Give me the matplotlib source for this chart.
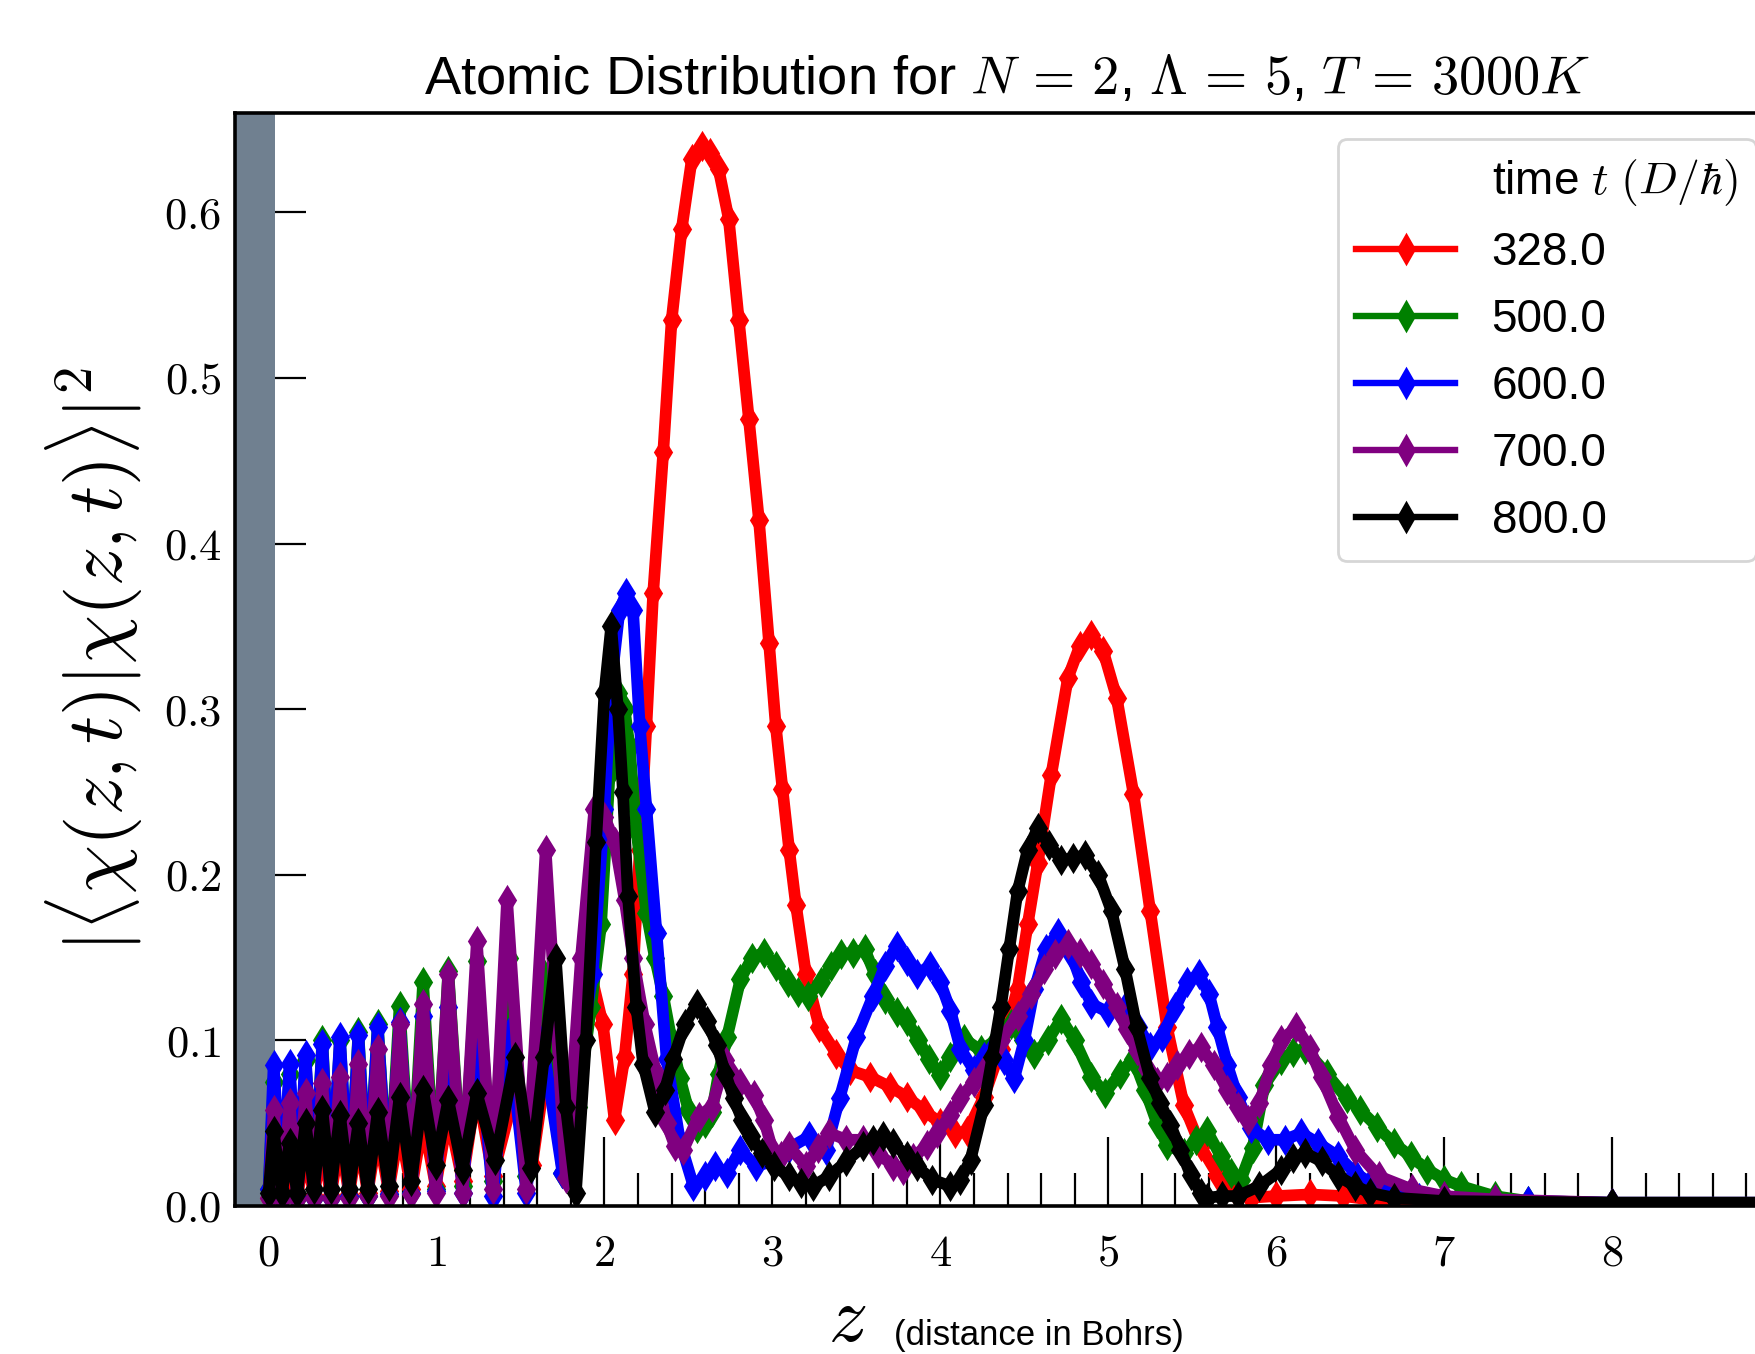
import matplotlib
matplotlib.use("Agg")
import matplotlib.pyplot as plt
from matplotlib.lines import Line2D
from matplotlib.ticker import MultipleLocator, FuncFormatter

plt.rcParams["font.family"] = ["Liberation Sans", "DejaVu Sans"]
plt.rcParams["mathtext.fontset"] = "cm"

# ---- values (z in Bohrs, |<chi|chi>|^2) ----
times = ["328.0", "500.0", "600.0", "700.0", "800.0"]
colors = ["red", "green", "blue", "purple", "black"]

red_z = [0.0, 0.03, 0.08, 0.125, 0.17, 0.22, 0.27, 0.32, 0.37, 0.425, 0.48, 0.535, 0.59, 0.65,
         0.715, 0.78, 0.85, 0.92, 0.995, 1.07, 1.155, 1.24, 1.335, 1.455, 1.57, 1.69, 1.76, 1.84,
         1.92, 1.99, 2.06, 2.12, 2.17, 2.21, 2.25, 2.29, 2.35, 2.40, 2.46, 2.52, 2.58, 2.63, 2.68,
         2.74, 2.80, 2.86, 2.92, 2.98, 3.02, 3.06, 3.10, 3.14, 3.20, 3.28, 3.38, 3.46, 3.58, 3.70,
         3.80, 3.90, 4.00, 4.09, 4.16, 4.26, 4.36, 4.46, 4.52, 4.58, 4.66, 4.76, 4.83, 4.90, 4.97,
         5.05, 5.15, 5.25, 5.35, 5.45, 5.55, 5.65, 5.75, 5.85, 6.0, 6.2, 6.4, 6.55, 6.7, 7.0, 8.0, 9.0]
red_v = [0.005, 0.03, 0.004, 0.032, 0.005, 0.035, 0.006, 0.038, 0.006, 0.04, 0.007, 0.042, 0.008,
         0.045, 0.009, 0.048, 0.01, 0.052, 0.012, 0.056, 0.015, 0.072, 0.018, 0.065, 0.025, 0.11,
         0.03, 0.09, 0.14, 0.11, 0.052, 0.09, 0.14, 0.215, 0.29, 0.37, 0.455, 0.535, 0.59, 0.632,
         0.64, 0.636, 0.626, 0.596, 0.535, 0.475, 0.414, 0.34, 0.29, 0.252, 0.215, 0.182, 0.14,
         0.108, 0.092, 0.082, 0.078, 0.072, 0.066, 0.058, 0.05, 0.044, 0.045, 0.066, 0.095, 0.131,
         0.17, 0.207, 0.26, 0.319, 0.338, 0.345, 0.335, 0.307, 0.249, 0.178, 0.108, 0.061, 0.036,
         0.019, 0.01, 0.005, 0.006, 0.007, 0.006, 0.004, 0.001, 0.0005, 0.0, 0.0]

green_z = [0.0, 0.03, 0.08, 0.125, 0.17, 0.22, 0.27, 0.32, 0.37, 0.425, 0.48, 0.535, 0.59, 0.65,
           0.715, 0.78, 0.85, 0.92, 0.995, 1.07, 1.155, 1.24, 1.335, 1.43, 1.535, 1.64, 1.75, 1.84,
           1.92, 1.98, 2.03, 2.08, 2.12, 2.15, 2.19, 2.25, 2.30, 2.35, 2.40, 2.45, 2.50, 2.55, 2.60,
           2.64, 2.68, 2.73, 2.81, 2.88, 2.95, 3.02, 3.09, 3.15, 3.21, 3.29, 3.35, 3.41, 3.48, 3.55,
           3.61, 3.67, 3.74, 3.80, 3.87, 3.93, 4.00, 4.06, 4.14, 4.24, 4.33, 4.42, 4.49, 4.56, 4.64,
           4.72, 4.80, 4.90, 4.98, 5.07, 5.15, 5.22, 5.29, 5.35, 5.45, 5.52, 5.59, 5.67, 5.73, 5.79,
           5.86, 5.93, 6.03, 6.10, 6.17, 6.30, 6.42, 6.50, 6.60, 6.70, 6.80, 6.90, 7.00, 7.10, 7.30,
           7.50, 8.0, 9.0]
green_v = [0.01, 0.075, 0.004, 0.08, 0.004, 0.088, 0.005, 0.1, 0.005, 0.1, 0.006, 0.105, 0.006,
           0.11, 0.007, 0.121, 0.008, 0.135, 0.01, 0.142, 0.012, 0.148, 0.015, 0.15, 0.018, 0.14,
           0.02, 0.06, 0.12, 0.17, 0.26, 0.31, 0.3, 0.277, 0.227, 0.177, 0.15, 0.127, 0.1, 0.077,
           0.058, 0.047, 0.05, 0.057, 0.08, 0.102, 0.137, 0.15, 0.153, 0.145, 0.135, 0.129, 0.127,
           0.135, 0.145, 0.152, 0.153, 0.155, 0.14, 0.125, 0.117, 0.112, 0.1, 0.089, 0.079, 0.09,
           0.101, 0.094, 0.1, 0.11, 0.1, 0.092, 0.1, 0.113, 0.1, 0.078, 0.068, 0.08, 0.089, 0.07,
           0.05, 0.037, 0.032, 0.04, 0.045, 0.03, 0.02, 0.016, 0.035, 0.073, 0.088, 0.093, 0.095,
           0.08, 0.065, 0.058, 0.048, 0.038, 0.03, 0.022, 0.016, 0.012, 0.006, 0.003, 0.002, 0.002]

blue_z = [0.0, 0.03, 0.08, 0.125, 0.17, 0.22, 0.27, 0.32, 0.37, 0.425, 0.48, 0.535, 0.59, 0.65,
          0.715, 0.78, 0.85, 0.92, 0.995, 1.07, 1.155, 1.24, 1.335, 1.43, 1.535, 1.63, 1.75, 1.85,
          1.93, 2.0, 2.04, 2.09, 2.13, 2.17, 2.21, 2.25, 2.31, 2.37, 2.45, 2.53, 2.60, 2.66, 2.73,
          2.81, 2.90, 3.00, 3.10, 3.22, 3.32, 3.40, 3.50, 3.60, 3.67, 3.74, 3.80, 3.86, 3.94, 4.00,
          4.06, 4.12, 4.20, 4.26, 4.32, 4.38, 4.44, 4.50, 4.56, 4.63, 4.70, 4.78, 4.84, 4.90, 5.00,
          5.10, 5.18, 5.25, 5.32, 5.40, 5.47, 5.54, 5.60, 5.65, 5.71, 5.77, 5.85, 5.95, 6.05, 6.15,
          6.25, 6.37, 6.47, 6.56, 6.70, 6.85, 7.00, 7.50, 8.0, 9.0]
blue_v = [0.01, 0.085, 0.005, 0.086, 0.005, 0.091, 0.005, 0.098, 0.005, 0.102, 0.006, 0.103,
          0.006, 0.108, 0.007, 0.111, 0.008, 0.115, 0.009, 0.12, 0.008, 0.117, 0.006, 0.105, 0.008,
          0.1, 0.02, 0.09, 0.14, 0.24, 0.315, 0.36, 0.37, 0.36, 0.29, 0.24, 0.165, 0.089, 0.039,
          0.012, 0.018, 0.024, 0.02, 0.034, 0.024, 0.027, 0.035, 0.042, 0.034, 0.065, 0.102, 0.127,
          0.145, 0.157, 0.148, 0.14, 0.145, 0.135, 0.118, 0.095, 0.082, 0.09, 0.096, 0.088, 0.077,
          0.1, 0.131, 0.155, 0.165, 0.152, 0.135, 0.122, 0.117, 0.12, 0.108, 0.096, 0.102, 0.12,
          0.135, 0.14, 0.128, 0.108, 0.085, 0.066, 0.047, 0.04, 0.04, 0.044, 0.038, 0.03, 0.02,
          0.014, 0.008, 0.005, 0.004, 0.003, 0.002, 0.002]

purple_z = [0.0, 0.03, 0.08, 0.125, 0.17, 0.22, 0.27, 0.32, 0.37, 0.425, 0.48, 0.535, 0.59, 0.65,
            0.715, 0.78, 0.85, 0.92, 0.995, 1.07, 1.155, 1.24, 1.335, 1.42, 1.535, 1.65, 1.77,
            1.86, 1.94, 2.00, 2.06, 2.12, 2.17, 2.24, 2.31, 2.37, 2.42, 2.47, 2.56, 2.64, 2.72,
            2.81, 2.89, 2.95, 3.00, 3.05, 3.10, 3.20, 3.27, 3.34, 3.44, 3.54, 3.63, 3.72, 3.78,
            3.84, 3.92, 3.98, 4.06, 4.12, 4.20, 4.26, 4.36, 4.46, 4.54, 4.62, 4.68, 4.76, 4.83,
            4.90, 4.97, 5.05, 5.11, 5.17, 5.23, 5.29, 5.35, 5.41, 5.48, 5.55, 5.63, 5.71, 5.77,
            5.83, 5.90, 5.97, 6.03, 6.12, 6.20, 6.27, 6.37, 6.47, 6.61, 6.81, 7.00, 7.30, 8.0, 9.0]
purple_v = [0.005, 0.058, 0.004, 0.062, 0.004, 0.068, 0.005, 0.074, 0.005, 0.078, 0.005, 0.086,
            0.006, 0.095, 0.006, 0.11, 0.007, 0.122, 0.008, 0.14, 0.008, 0.16, 0.01, 0.185, 0.01,
            0.215, 0.017, 0.15, 0.24, 0.235, 0.22, 0.185, 0.15, 0.11, 0.079, 0.05, 0.036, 0.034,
            0.054, 0.06, 0.088, 0.074, 0.067, 0.052, 0.034, 0.03, 0.036, 0.024, 0.035, 0.044, 0.04,
            0.04, 0.032, 0.024, 0.022, 0.029, 0.037, 0.044, 0.055, 0.065, 0.075, 0.082, 0.1, 0.115,
            0.128, 0.143, 0.152, 0.158, 0.153, 0.146, 0.134, 0.12, 0.107, 0.094, 0.083, 0.075,
            0.078, 0.085, 0.092, 0.096, 0.085, 0.07, 0.06, 0.052, 0.062, 0.085, 0.1, 0.108, 0.095,
            0.078, 0.054, 0.034, 0.018, 0.01, 0.006, 0.004, 0.002, 0.002]

black_z = [0.0, 0.03, 0.08, 0.125, 0.17, 0.22, 0.27, 0.32, 0.37, 0.425, 0.48, 0.535, 0.59, 0.65,
           0.715, 0.78, 0.85, 0.92, 0.995, 1.07, 1.155, 1.24, 1.35, 1.47, 1.565, 1.64, 1.71, 1.77,
           1.83, 1.89, 1.95, 2.00, 2.04, 2.08, 2.11, 2.14, 2.19, 2.23, 2.30, 2.36, 2.41, 2.48,
           2.55, 2.61, 2.67, 2.72, 2.77, 2.82, 2.87, 2.94, 3.01, 3.10, 3.17, 3.24, 3.34, 3.44,
           3.54, 3.60, 3.66, 3.72, 3.80, 3.86, 3.95, 4.06, 4.12, 4.18, 4.26, 4.31, 4.36, 4.41,
           4.46, 4.52, 4.58, 4.65, 4.72, 4.79, 4.86, 4.94, 5.02, 5.10, 5.17, 5.25, 5.31, 5.37,
           5.43, 5.49, 5.55, 5.59, 5.68, 5.77, 5.90, 6.03, 6.10, 6.17, 6.27, 6.37, 6.47, 6.56,
           6.70, 7.00, 8.0, 9.0]
black_v = [0.008, 0.045, 0.008, 0.038, 0.008, 0.05, 0.01, 0.058, 0.01, 0.055, 0.01, 0.05, 0.01,
           0.057, 0.012, 0.066, 0.015, 0.07, 0.025, 0.064, 0.022, 0.068, 0.028, 0.09, 0.023, 0.09,
           0.15, 0.06, 0.008, 0.1, 0.22, 0.31, 0.35, 0.3, 0.25, 0.187, 0.12, 0.086, 0.057, 0.07,
           0.089, 0.11, 0.122, 0.112, 0.097, 0.08, 0.065, 0.052, 0.042, 0.032, 0.024, 0.018,
           0.014, 0.012, 0.018, 0.027, 0.036, 0.04, 0.042, 0.038, 0.03, 0.024, 0.016, 0.012,
           0.016, 0.028, 0.061, 0.09, 0.12, 0.155, 0.19, 0.215, 0.228, 0.218, 0.209, 0.21, 0.212,
           0.2, 0.178, 0.143, 0.108, 0.077, 0.062, 0.049, 0.034, 0.019, 0.008, 0.005, 0.006,
           0.006, 0.012, 0.022, 0.029, 0.032, 0.027, 0.018, 0.012, 0.008, 0.005, 0.003, 0.002,
           0.002]

series = [(red_z, red_v), (green_z, green_v), (blue_z, blue_v),
          (purple_z, purple_v), (black_z, black_v)]

# ---- figure ----
W, H, DPI = 1756, 1354, 200
fig = plt.figure(figsize=(W / DPI, H / DPI), dpi=DPI)
# axes runs a little past the right edge of the image, as in the original
ax = fig.add_axes([235 / W, 1 - 1206 / H, (1780 - 235) / W, (1206 - 113) / H])
ax.set_axisbelow(True)

ax.axvspan(-0.2, 0.04, color="slategray", lw=0)

# the original points are very dense, so the traces read as thick bumpy bands
for (z, v), c, lab in zip(series, colors, times):
    ax.plot(z, v, color=c, lw=4.2, marker="d", ms=6.5, solid_joinstyle="round")

ax.set_xlim(-0.2, 9.0)
ax.set_ylim(0, 0.66)

ax.xaxis.set_major_locator(MultipleLocator(1))
ax.xaxis.set_minor_locator(MultipleLocator(0.2))
ax.yaxis.set_major_locator(MultipleLocator(0.1))
ax.xaxis.set_major_formatter(FuncFormatter(lambda x, p: f"${x:.0f}$" if x < 8.5 else ""))
ax.yaxis.set_major_formatter(FuncFormatter(lambda y, p: f"${y:.1f}$"))
ax.tick_params(axis="x", which="major", direction="in", length=25, width=0.8, pad=10, labelsize=16)
ax.tick_params(axis="x", which="minor", direction="in", length=12, width=0.8)
ax.tick_params(axis="y", which="major", direction="in", length=25.5, width=0.8, pad=5, labelsize=16)
for s in ax.spines.values():
    s.set_linewidth(1.3)

ax.set_ylabel(r"$|\langle\chi(z,t)|\chi(z,t)\rangle|^2$", fontsize=28)
ax.yaxis.set_label_coords(-0.058, 0.5)

ax.set_title(r"Atomic Distribution for $N\,=\,2$, $\Lambda\,=\,5$, $T\,=\,3000K$",
             fontsize=19.6, pad=7)

# x label: big z plus small note
fig.text(866 / W, 1 - 1341 / H, r"$z$", ha="right", va="baseline", fontsize=28)
fig.text(894 / W, 1 - 1345 / H, "(distance in Bohrs)", ha="left", va="baseline", fontsize=12.5)

# legend: first row is a handle-less header
blank = Line2D([], [], color="none")
handles = [Line2D([], [], color=c, lw=2.3, marker="d", ms=7) for c in colors]
ax.legend([blank] + handles, [r"time $t$ $(D/\hbar)$"] + times,
          loc="upper left", bbox_to_anchor=(1338 / W, 1 - 139 / H),
          bbox_transform=fig.transFigure, borderaxespad=0, fontsize=16.5,
          handlelength=2.15, handletextpad=0.8, borderpad=0.4, labelspacing=0.5)

fig.savefig("out.png", dpi=DPI)
